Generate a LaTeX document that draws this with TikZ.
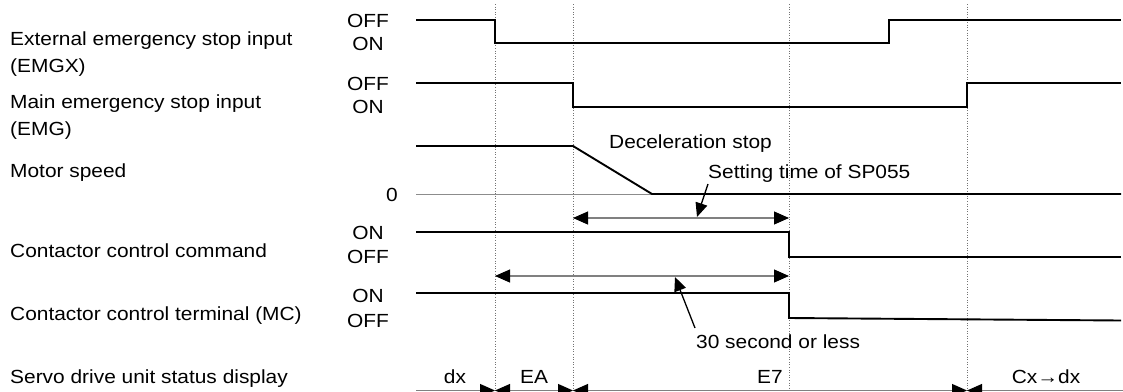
\documentclass[tikz,border=0pt]{standalone}
\usepackage{fontspec}
\setmainfont{Liberation Sans}[FakeStretch=1.1]
\usetikzlibrary{arrows.meta}
\tikzset{
  txt/.style={inner sep=0pt, font=\fontsize{19bp}{27bp}\selectfont},
  lbl/.style={txt, anchor=base west},
  lvl/.style={txt, anchor=base},
  sig/.style={line width=1.9bp, line join=miter},
  zeroaxis/.style={line width=0.9bp, black!45},
  guide/.style={black!55, line width=0.6bp, dotted},
  tipA/.tip={Triangle[length=15bp,width=13bp,color=black]},
  dimline/.style={line width=1.1bp, black!50},
  pointer/.style={line width=1.3bp, -{Triangle[length=14bp,width=12bp]}},
}
\begin{document}
\begin{tikzpicture}[x=1bp,y=-1bp]
\useasboundingbox (0,0) rectangle (1123,391);
% time instants
\coordinate (t0) at (416,0);
\coordinate (t1) at (495,0);
\coordinate (t2) at (573,0);
\coordinate (t3) at (789,0);
\coordinate (t4) at (967,0);
\coordinate (te) at (1121,0);

% left labels
\node[lbl] (n1a) at (10,45) {External emergency stop input};
\node[lbl] (n1b) at (10,72) {(EMGX)};
\node[lbl] (n2a) at (10,108) {Main emergency stop input};
\node[lbl] (n2b) at (10,135) {(EMG)};
\node[lbl] (n3) at (10,177) {Motor speed};
\node[lbl] (n4) at (10,257) {Contactor control command};
\node[lbl] (n5) at (10,320) {Contactor control terminal (MC)};
\node[lbl] (n6) at (10,383) {Servo drive unit status display};

% level labels
\node[lvl] (v1h) at (368,27) {OFF};
\node[lvl] (v1l) at (368,50) {ON};
\node[lvl] (v2h) at (368,90) {OFF};
\node[lvl] (v2l) at (368,113) {ON};
\node[lvl] (v3z) at (392,201) {0};
\node[lvl] (v4h) at (368,239) {ON};
\node[lvl] (v4l) at (368,263) {OFF};
\node[lvl] (v5h) at (368,302) {ON};
\node[lvl] (v5l) at (368,327) {OFF};

% guide lines
\foreach \t in {t1,t2,t3,t4}
  \draw[guide] (\t |- 0,4) -- (\t |- 0,391);

% signals
\draw[sig] (416,20) -- (495,20) -- (495,43) -- (889,43) -- (889,20) -- (1121,20);
\draw[sig] (416,83) -- (573,83) -- (573,107) -- (967,107) -- (967,83) -- (1121,83);
\draw[zeroaxis] (416,194) -- (1121,194);
\draw[sig] (416,146) -- (573,146) -- (652,194) -- (1121,194);
\draw[sig] (416,232) -- (789,232) -- (789,257) -- (1121,257);
\draw[sig] (416,293) -- (789,293) -- (789,318) -- (1121,320.5);

% annotations
\node[lbl] (dec) at (609,148) {Deceleration stop};
\node[lbl] (sp) at (708,178) {Setting time of SP055};
\node[lbl] (thirty) at (696,348) {30 second or less};

\coordinate (spa) at (573,218);
\coordinate (spb) at (789,218);
\draw[dimline, tipA-tipA] (spa) -- (spb);
\coordinate (tha) at (495,276);
\coordinate (thb) at (789,276);
\draw[dimline, tipA-tipA] (tha) -- (thb);

\coordinate (spm) at (697,217);
\coordinate (thm) at (675,277);
\draw[pointer] (708,184) -- (spm);
\draw[pointer] (695,328) -- (thm);

% status display
\coordinate (s0) at (416,390.5);
\coordinate (s1) at (495,390.5);
\coordinate (s2) at (573,390.5);
\coordinate (s3) at (967,390.5);
\coordinate (s4) at (1123,390.5);
\draw[dimline, -tipA] (s0) -- (s1);
\draw[dimline, tipA-tipA] (s1) -- (s2);
\draw[dimline, tipA-tipA] (s2) -- (s3);
\draw[dimline, tipA-] (s3) -- (s4);
\node[lvl] (dx) at (455,383) {dx};
\node[lvl] (ea) at (534,383) {EA};
\node[lvl] (e7) at (770,383) {E7};
\node[lvl] (cx) at (1046,383) {Cx→dx};
\end{tikzpicture}
\end{document}
